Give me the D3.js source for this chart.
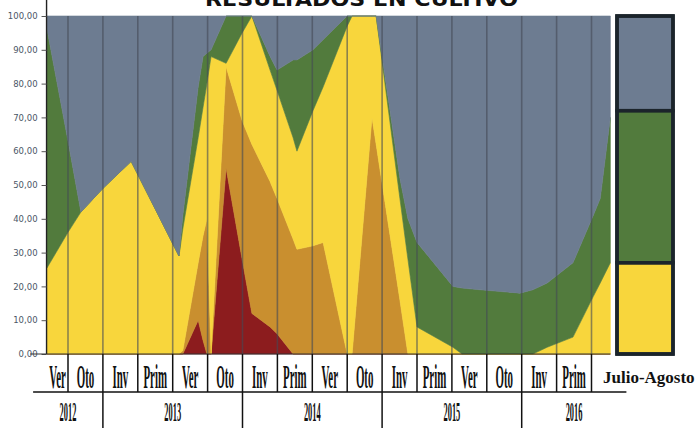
<!DOCTYPE html>
<html>
<head>
<meta charset="utf-8">
<script src="https://cdn.jsdelivr.net/npm/d3@7"></script>
<style>
  html, body { margin: 0; padding: 0; background: #fff; }
  svg { display: block; }
</style>
</head>
<body>
<svg id="chart" width="697" height="428"></svg>
<script>
// ---------- DATA ----------
const title = "RESULTADOS EN CULTIVO";
const seasons = ["Ver","Oto","Inv","Prim","Ver","Oto","Inv","Prim","Ver","Oto","Inv","Prim","Ver","Oto","Inv","Prim"];
const years = ["2012","2013","2014","2015","2016"];
const yearStart = [0, 2, 6, 10, 14];
const yearEnd   = [2, 6, 10, 14, 17];
const yTicks = [0,10,20,30,40,50,60,70,80,90,100];
const seriesKeys = ["rojo","naranja","amarillo","verde","gris"];
// position of each reading, in season units (0 = start of "Ver" 2012)
const timePos  = [0.40,1.00,1.37,2.00,2.81,4.18,4.29,4.73,4.87,4.98,5.10,5.53,5.99,6.27,6.79,6.99,7.45,7.56,8.02,8.31,9.00,9.14,9.71,9.83,10.51,10.74,11.00,12.03,12.29,12.81,13.95,14.32,14.73,15.47,16.05,16.25,16.54];
const rojo     = [0,0,0,0,0,0,0,10,4,0,0,55,28,12,8,6,0,0,0,0,0,0,0,0,0,0,0,0,0,0,0,0,0,0,0,0,0];
const naranja  = [0,0,0,0,0,0,1,17,31,40,0,30,41,50,43,40,34,31,32,33,0,0,70,62,16,0,0,0,0,0,0,0,0,0,0,0,0];
const amarillo = [25.5,36,42,49,57,29,36,37,38,40,88,1,26,38,33,32,30,29,40,46,97,100,30,38,30,28,8,2,0,0,0,0,2,5,17,21,27];
const verde    = [70.5,27,0,0,0,0,4,15,15,9,2,14,5,0,4,6,23,27,18,14,3,0,0,0,6,12,25,18,19.5,19,18,19,19,22,24,25,43];
const gris     = [4,37,58,51,43,71,59,21,12,11,10,0,0,0,12,16,13,13,10,7,0,0,0,0,48,60,67,80,80.5,81,82,81,79,73,59,54,30];
// "Julio-Agosto" reference bar
const jaKeys   = ["amarillo","verde","gris"];
const jaValues = [27, 45, 28];

const colors = {
  rojo: "#8c1c1e",
  naranja: "#c98f2f",
  amarillo: "#f8d63c",
  verde: "#527b3d",
  gris: "#6d7c91"
};

// ---------- LAYOUT ----------
const svg = d3.select("#chart");
const x = d3.scaleLinear().domain([0, 16]).range([33.1, 591.5]);
const y = d3.scaleLinear().domain([0, 100]).range([354, 16]);
const tMin = d3.min(timePos), tMax = d3.max(timePos);

// title (cut at top edge as in the scan)
svg.append("text")
  .attr("x", 205).attr("y", 6)
  .attr("textLength", 313).attr("lengthAdjust", "spacingAndGlyphs")
  .attr("font-family", "DejaVu Sans, sans-serif")
  .attr("font-weight", "bold").attr("font-size", 20)
  .attr("fill", "#111")
  .text(title);

// stacked areas
const rows = timePos.map((t, i) => ({
  t, rojo: rojo[i], naranja: naranja[i], amarillo: amarillo[i], verde: verde[i], gris: gris[i]
}));
const stacked = d3.stack().keys(seriesKeys)(rows);
const area = d3.area()
  .x(d => x(d.data.t))
  .y0(d => y(d[0]))
  .y1(d => y(d[1]))
  .curve(d3.curveLinear);

svg.append("g").selectAll("path")
  .data(stacked)
  .join("path")
  .attr("d", area)
  .attr("fill", d => colors[d.key])
  .attr("stroke", d => colors[d.key])
  .attr("stroke-width", 0.6);

// vertical season lines inside plot
const bounds = d3.range(1, 17);
svg.append("g").selectAll("line")
  .data(bounds)
  .join("line")
  .attr("x1", d => x(d)).attr("x2", d => x(d))
  .attr("y1", y(100)).attr("y2", y(0))
  .attr("stroke", "#454a55").attr("stroke-opacity", 0.6).attr("stroke-width", 1.6);

// y axis
const fmt = d3.formatLocale({decimal: ",", thousands: ".", grouping: [3], currency: ["", ""]}).format(".2f");
const yAxis = svg.append("g")
  .attr("transform", `translate(${x(tMin) - 0.5},0)`)
  .call(d3.axisLeft(y).tickValues(yTicks).tickFormat(fmt).tickSize(5).tickPadding(4));
yAxis.select(".domain").attr("stroke", "#222").attr("stroke-width", 1.4).attr("d", `M0,0V${y(0)}`);
yAxis.selectAll(".tick line").attr("stroke", "#555");
yAxis.selectAll(".tick text")
  .attr("font-family", "DejaVu Sans, sans-serif")
  .attr("font-size", 8.5)
  .attr("fill", "#4a5666");

// x baseline + table lines
svg.append("line")
  .attr("x1", x(0) - 3).attr("x2", x(tMax))
  .attr("y1", y(0)).attr("y2", y(0))
  .attr("stroke", "#333").attr("stroke-width", 1.2);
svg.append("line")
  .attr("x1", x(0)).attr("x2", x(17))
  .attr("y1", 392).attr("y2", 392)
  .attr("stroke", "#111").attr("stroke-width", 1.5);

svg.append("g").selectAll("line")
  .data(bounds)
  .join("line")
  .attr("x1", d => x(d)).attr("x2", d => x(d))
  .attr("y1", y(0)).attr("y2", 392)
  .attr("stroke", "#111").attr("stroke-width", 1.5);

svg.append("g").selectAll("line")
  .data(yearStart.slice(1))
  .join("line")
  .attr("x1", d => x(d)).attr("x2", d => x(d))
  .attr("y1", 392).attr("y2", 428)
  .attr("stroke", "#111").attr("stroke-width", 1.5);

// season labels (condensed serif)
const seasonG = svg.append("g");
seasons.forEach((s, i) => {
  const cx = (x(Math.max(i, tMin)) + x(i + 1)) / 2;
  seasonG.append("text")
    .attr("transform", `translate(${cx},388) scale(0.33,1)`)
    .attr("text-anchor", "middle")
    .attr("font-family", "Liberation Serif, serif")
    .attr("font-weight", "bold")
    .attr("font-size", 33)
    .attr("fill", "#111")
    .text(s);
});

// year labels
const yearG = svg.append("g");
years.forEach((yr, i) => {
  const cx = (x(yearStart[i]) + x(yearEnd[i])) / 2;
  yearG.append("text")
    .attr("transform", `translate(${cx},421) scale(0.3,1)`)
    .attr("text-anchor", "middle")
    .attr("font-family", "Liberation Serif, serif")
    .attr("font-weight", "bold")
    .attr("font-size", 28)
    .attr("fill", "#111")
    .text(yr);
});

// Julio-Agosto bar
const jaStack = d3.stack().keys(jaKeys)([Object.fromEntries(jaKeys.map((k, i) => [k, jaValues[i]]))]);
const barX0 = 617, barX1 = 673;
svg.append("g").selectAll("rect")
  .data(jaStack)
  .join("rect")
  .attr("x", barX0)
  .attr("width", barX1 - barX0)
  .attr("y", d => y(d[0][1]))
  .attr("height", d => y(d[0][0]) - y(d[0][1]))
  .attr("fill", d => colors[d.key])
  .attr("stroke", "#1b242b")
  .attr("stroke-width", 3.5);
svg.append("rect")
  .attr("x", barX0).attr("y", y(100))
  .attr("width", barX1 - barX0).attr("height", y(0) - y(100))
  .attr("fill", "none").attr("stroke", "#1b242b").attr("stroke-width", 3.5);

svg.append("text")
  .attr("x", 603).attr("y", 383)
  .attr("font-family", "Liberation Serif, serif")
  .attr("font-weight", "bold")
  .attr("font-size", 17)
  .attr("fill", "#111")
  .text("Julio-Agosto");
</script>
</body>
</html>
